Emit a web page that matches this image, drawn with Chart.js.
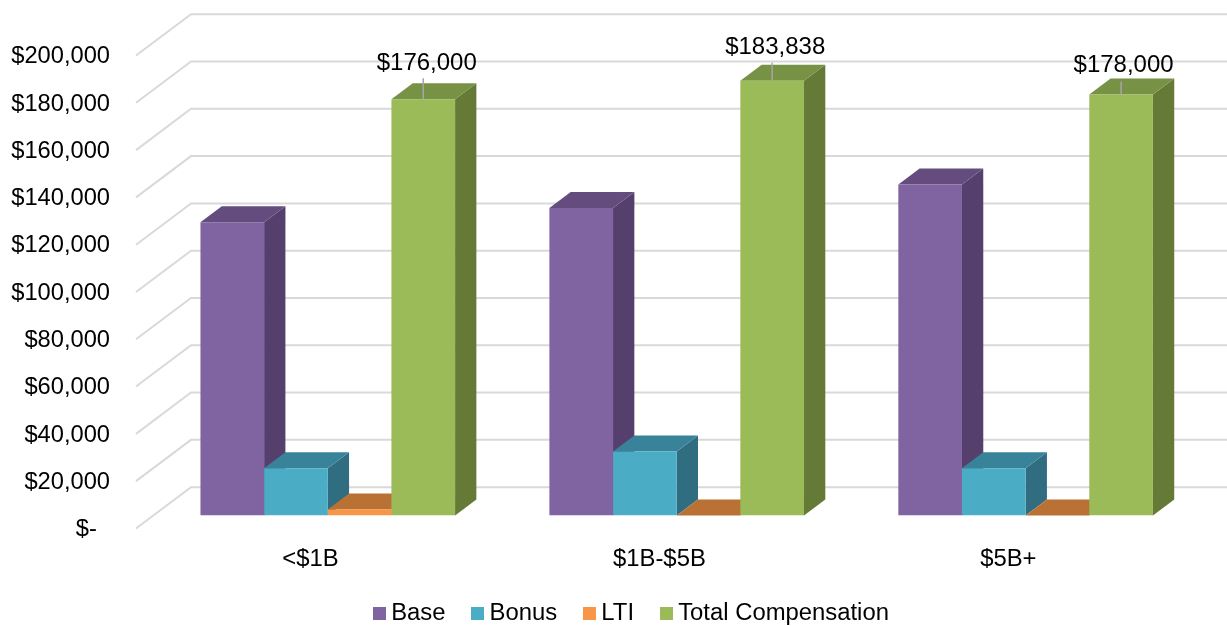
<!DOCTYPE html>
<html>
<head>
<meta charset="utf-8">
<style>html,body{margin:0;padding:0;background:#fff}canvas{display:block}</style>
<script src="https://cdn.jsdelivr.net/npm/chart.js@4/dist/chart.umd.min.js"></script>
</head>
<body>
<canvas id="c" width="1227" height="626"></canvas>
<script>
const categories = ['<$1B', '$1B-$5B', '$5B+'];
const baseValues = [124000, 130000, 140000];
const bonusValues = [20000, 27000, 20000];
const ltiValues = [2500, 0, 0];
const totalValues = [176000, 183838, 178000];
const seriesNames = ['Base', 'Bonus', 'LTI', 'Total Compensation'];
const frontColors = ['#8064A2', '#4BACC6', '#F79646', '#9BBB59'];
const topColors = ['#644D7E', '#39839A', '#B97233', '#779244'];
const sideColors = ['#543F6D', '#306D80', '#B97233', '#657A36'];
const valueLabelLift = [36, 33.5, 29];
const valueLabelShift = [3.5, 3, 2.5];
const valueLabelLeader = [21, 18, 13];

const FONT = '"Liberation Sans", Arial, sans-serif';
const FS = 23.85;
const WALL = {dx: 55, dy: 41.3};
const BAR_OFFSET = {dx: 17.3, dy: 13};
const BAR_DEPTH = {dx: 21.3, dy: 16};

function poly(ctx, pts, fill) {
  ctx.beginPath();
  pts.forEach((p, i) => i ? ctx.lineTo(p[0], p[1]) : ctx.moveTo(p[0], p[1]));
  ctx.closePath();
  ctx.fillStyle = fill;
  ctx.fill();
}

const threeD = {
  id: 'threeD',
  afterLayout(chart) {
    chart.legend.left = 347;
    chart.legend.top = 569.7;
    chart.scales.x.bottom = 600;
  },
  beforeDatasetsDraw(chart) {
    const ctx = chart.ctx, y = chart.scales.y, a = chart.chartArea;
    ctx.save();
    ctx.strokeStyle = '#D9D9D9';
    ctx.lineWidth = 2;
    y.ticks.forEach(t => {
      const py = y.getPixelForValue(t.value);
      ctx.beginPath();
      ctx.moveTo(a.left, py);
      ctx.lineTo(a.left + WALL.dx, py - WALL.dy);
      ctx.lineTo(chart.width, py - WALL.dy);
      ctx.stroke();
    });
    ctx.restore();
    ctx.save();
    ctx.translate(BAR_OFFSET.dx, -BAR_OFFSET.dy);
    const d = BAR_DEPTH;
    categories.forEach((_, i) => {
      chart.data.datasets.forEach((ds, k) => {
        const b = chart.getDatasetMeta(k).data[i];
        const l = b.x - b.width / 2, r = b.x + b.width / 2;
        poly(ctx, [[r, b.y], [r + d.dx, b.y - d.dy], [r + d.dx, b.base - d.dy], [r, b.base]], sideColors[k]);
        poly(ctx, [[l, b.y], [l + d.dx, b.y - d.dy], [r + d.dx, b.y - d.dy], [r, b.y]], topColors[k]);
      });
    });
  },
  afterDatasetsDraw(chart) {
    const ctx = chart.ctx;
    ctx.restore();
    const meta = chart.getDatasetMeta(3);
    ctx.save();
    meta.data.forEach((b, i) => {
      const x = b.x + BAR_OFFSET.dx, top = b.y - BAR_OFFSET.dy;
      ctx.strokeStyle = '#A6A6A6';
      ctx.lineWidth = 1.5;
      ctx.beginPath();
      ctx.moveTo(x, top);
      ctx.lineTo(x, top - valueLabelLeader[i]);
      ctx.stroke();
      ctx.fillStyle = '#000';
      ctx.font = '24px ' + FONT;
      ctx.textAlign = 'center';
      ctx.textBaseline = 'middle';
      ctx.fillText('$' + totalValues[i].toLocaleString('en-US'), x + valueLabelShift[i], top - valueLabelLift[i]);
    });
    ctx.restore();
  }
};

new Chart(document.getElementById('c'), {
  type: 'bar',
  plugins: [threeD],
  data: {
    labels: categories,
    datasets: [baseValues, bonusValues, ltiValues, totalValues].map((v, k) => ({
      label: seriesNames[k],
      data: v,
      backgroundColor: frontColors[k],
      borderWidth: 0,
      categoryPercentage: 0.7297,
      barPercentage: 1
    }))
  },
  options: {
    responsive: false,
    animation: false,
    events: [],
    layout: {padding: {top: 55.5, right: 44.2, left: 0, bottom: 0}},
    scales: {
      x: {
        grid: {display: false, drawTicks: false},
        border: {display: false},
        afterFit(s) { s.height = 31.5; },
        ticks: {color: '#000', font: {family: FONT, size: FS}, padding: 17, maxRotation: 0, autoSkip: false}
      },
      y: {
        min: 0, max: 200000,
        grid: {display: false, drawTicks: false},
        border: {display: false},
        afterFit(s) { s.width = 136; },
        ticks: {
          stepSize: 20000,
          color: '#000',
          font: {family: FONT, size: 23.7},
          padding: 26,
          labelOffset: 1.2,
          callback: v => v === 0 ? '$-\u00A0\u00A0' : '$' + v.toLocaleString('en-US')
        }
      }
    },
    plugins: {
      tooltip: {enabled: false},
      legend: {
        position: 'bottom',
        align: 'start',
        labels: {
          color: '#000',
          font: {family: FONT, size: FS},
          padding: 32.2,
          usePointStyle: true,
          pointStyleWidth: 0.01,
          generateLabels(chart) {
            return chart.data.datasets.map((ds, k) => {
              const sq = document.createElement('canvas');
              sq.width = 13; sq.height = 13;
              const g = sq.getContext('2d');
              g.fillStyle = ds.backgroundColor;
              g.fillRect(0, 0, 13, 13);
              return {text: ds.label, pointStyle: sq, fillStyle: ds.backgroundColor, strokeStyle: ds.backgroundColor, lineWidth: 0, datasetIndex: k, hidden: false};
            });
          }
        }
      }
    }
  }
});
</script>
</body>
</html>
